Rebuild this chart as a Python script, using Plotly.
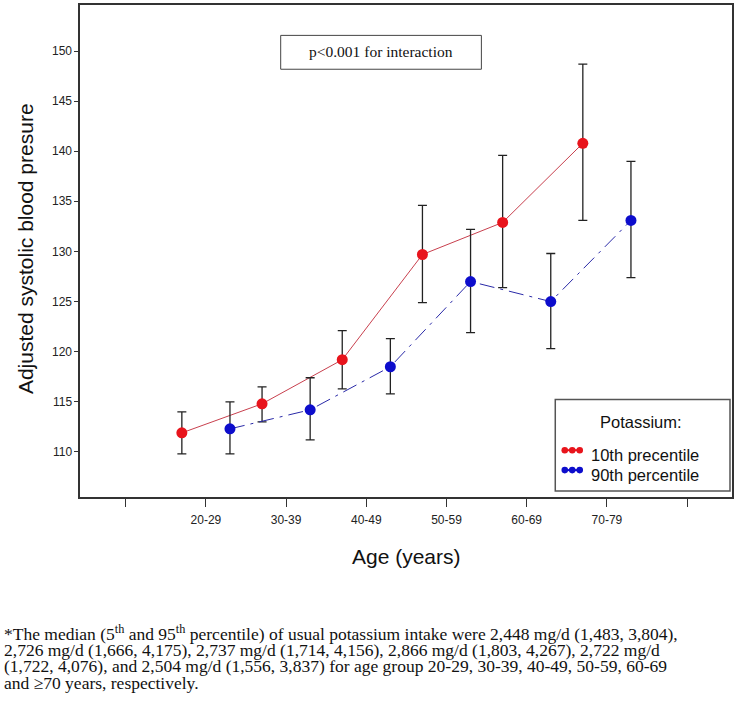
import plotly.graph_objects as go

# ---- data ----
age_groups = ["20-29", "30-39", "40-49", "50-59", "60-69", "70-79"]
tick_labels = [""] + age_groups + [""]

k10_mean = [111.9, 114.8, 119.2, 129.7, 132.9, 140.8]
k10_upper = [114.0, 116.5, 122.1, 134.6, 139.6, 148.7]
k10_lower = [109.8, 113.0, 116.3, 124.9, 126.4, 133.1]

k90_mean = [112.3, 114.2, 118.5, 127.0, 125.0, 133.1]
k90_upper = [115.0, 117.4, 121.3, 132.2, 129.8, 139.0]
k90_lower = [109.8, 111.2, 115.8, 121.9, 120.3, 127.4]

y_ticks = [110, 115, 120, 125, 130, 135, 140, 145, 150]

footnote_lines = [
    "*The median (5<sup>th</sup> and 95<sup>th</sup> percentile) of usual potassium intake were 2,448 mg/d (1,483, 3,804),",
    "2,726 mg/d (1,666, 4,175), 2,737 mg/d (1,714, 4,156), 2,866 mg/d (1,803, 4,267), 2,722 mg/d",
    "(1,722, 4,076), and 2,504 mg/d (1,556, 3,837) for age group 20-29, 30-39, 40-49, 50-59, 60-69",
    "and \u226570 years, respectively.",
]

# ---- geometry helpers ----
W, H = 737, 707
L, R, T, B = 80, 4, 3, 210
PW, PH = W - L - R, H - T - B


def px(xpix):
    return (xpix - L) / PW


def py(ypix):
    return (H - B - ypix) / PH


pos = list(range(1, len(age_groups) + 1))
dodge = 0.3
x10 = [p - dodge for p in pos]
x90 = [p + dodge for p in pos]

RED = "#e8141c"
BLUE = "#0d0dcc"
SANS = "Arial, Liberation Sans, sans-serif"
SERIF = "Liberation Serif, Times New Roman, serif"

fig = go.Figure()
fig.add_trace(go.Scatter(
    x=x10, y=k10_mean, mode="lines+markers", name="10th precentile",
    line=dict(color="#c8404e", width=1),
    marker=dict(color=RED, size=11),
    error_y=dict(type="data", symmetric=False,
                 array=[u - m for u, m in zip(k10_upper, k10_mean)],
                 arrayminus=[m - l for m, l in zip(k10_mean, k10_lower)],
                 color="#222222", thickness=1.3, width=4.5),
    showlegend=False,
))
fig.add_trace(go.Scatter(
    x=x90, y=k90_mean, mode="lines+markers", name="90th percentile",
    line=dict(color="#2a2aa8", width=1, dash="longdashdot"),
    marker=dict(color=BLUE, size=11),
    error_y=dict(type="data", symmetric=False,
                 array=[u - m for u, m in zip(k90_upper, k90_mean)],
                 arrayminus=[m - l for m, l in zip(k90_mean, k90_lower)],
                 color="#222222", thickness=1.3, width=4.5),
    showlegend=False,
))

shapes = []
annotations = []

# y tick labels (placed through the y scale)
for v in y_ticks:
    annotations.append(dict(text=str(v), xref="paper", yref="y", x=px(73.5), y=v,
                            xanchor="right", yanchor="middle", showarrow=False,
                            font=dict(family=SANS, size=12, color="#222")))

# p-value box
shapes.append(dict(type="rect", xref="paper", yref="paper",
                   x0=px(281), x1=px(482), y0=py(33.5), y1=py(67.5),
                   line=dict(color="#444", width=1), fillcolor="white"))
annotations.append(dict(text="p<0.001 for interaction", xref="paper", yref="paper",
                        x=px(381.5), y=py(50), xanchor="center", yanchor="middle",
                        showarrow=False, font=dict(family=SERIF, size=15.5, color="#111")))

# legend box
shapes.append(dict(type="rect", xref="paper", yref="paper",
                   x0=px(556), x1=px(731), y0=py(399), y1=py(491),
                   line=dict(color="#555", width=1.5), fillcolor="white"))
annotations.append(dict(text="Potassium:", xref="paper", yref="paper",
                        x=px(642), y=py(421.5), xanchor="center", yanchor="middle",
                        showarrow=False, font=dict(family=SANS, size=16.5, color="#111")))
for yy, col, lab in [(450, RED, "10th precentile"), (470, BLUE, "90th percentile")]:
    shapes.append(dict(type="line", xref="paper", yref="paper",
                       x0=px(563), x1=px(583), y0=py(yy), y1=py(yy),
                       line=dict(color=col, width=2)))
    for cx in (565.5, 573, 580.5):
        shapes.append(dict(type="circle", xref="paper", yref="paper",
                           x0=px(cx - 3.3), x1=px(cx + 3.3), y0=py(yy - 3.3), y1=py(yy + 3.3),
                           line=dict(color=col, width=0), fillcolor=col))
    annotations.append(dict(text=lab, xref="paper", yref="paper",
                            x=px(590), y=py(yy + 5), xanchor="left", yanchor="middle",
                            showarrow=False, font=dict(family=SANS, size=16.5, color="#111")))

# axis titles
annotations.append(dict(text="Adjusted systolic blood presure", xref="paper", yref="paper",
                        x=px(25), y=py(248), xanchor="center", yanchor="middle", textangle=-90,
                        showarrow=False, font=dict(family=SANS, size=21, color="#111")))
annotations.append(dict(text="Age (years)", xref="paper", yref="paper",
                        x=px(407), y=py(557), xanchor="center", yanchor="middle",
                        showarrow=False, font=dict(family=SANS, size=21, color="#111")))

# footnote
for i, line in enumerate(footnote_lines):
    annotations.append(dict(text=line, xref="paper", yref="paper",
                            x=px(2), y=py(634 + i * 16.5), xanchor="left", yanchor="middle",
                            showarrow=False, font=dict(family=SERIF, size=17.5, color="#111")))

fig.update_layout(
    width=W, height=H,
    margin=dict(l=L, r=R, t=T, b=B, pad=0),
    paper_bgcolor="white", plot_bgcolor="white",
    shapes=shapes, annotations=annotations,
    xaxis=dict(range=[-0.57, 7.56], tickmode="array", tickvals=list(range(0, 8)), ticktext=tick_labels,
               ticks="outside", ticklen=8, tickcolor="#333", tickwidth=1.3, ticklabelstandoff=3,
               showline=True, linecolor="#333", linewidth=1.5, mirror=True,
               showgrid=False, zeroline=False,
               tickfont=dict(family=SANS, size=12, color="#222")),
    yaxis=dict(range=[105.5, 154.6], tickmode="array", tickvals=y_ticks, showticklabels=False,
               ticks="outside", ticklen=4, tickcolor="#333", tickwidth=1.3,
               showline=True, linecolor="#333", linewidth=1.5, mirror=True,
               showgrid=False, zeroline=False),
)

fig.write_html("out.html", config={"displayModeBar": False},
               post_script="document.body.style.margin='0px';document.body.style.overflow='hidden';")
